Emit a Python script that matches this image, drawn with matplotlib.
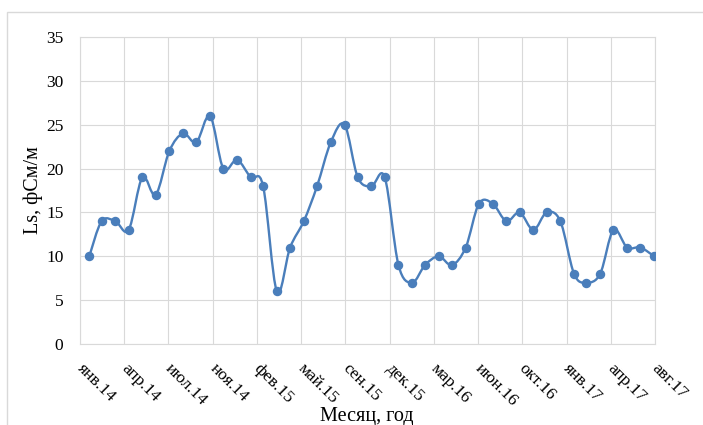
import numpy as np
import pandas as pd
import matplotlib
matplotlib.use("Agg")
import matplotlib.pyplot as plt
import matplotlib.dates as mdates
import matplotlib.transforms as mtransforms
from matplotlib.path import Path
from matplotlib.patches import PathPatch, Rectangle

# ---- data ----
months = pd.period_range("2014-01", "2017-07", freq="M")
values = [10, 14, 14, 13, 19, 17, 22, 24, 23, 26,
          20, 21, 19, 18, 6, 11, 14, 18, 23, 25,
          19, 18, 19, 9, 7, 9, 10, 9, 11, 16,
          16, 14, 15, 13, 15, 14, 8, 7, 8, 13,
          11, 11, 10]
tick_labels = ["янв.14", "апр.14", "июл.14", "ноя.14", "фев.15", "май.15",
               "сен.15", "дек.15", "мар.16", "июн.16", "окт.16", "янв.17",
               "апр.17", "авг.17"]
y_ticks = [0, 5, 10, 15, 20, 25, 30, 35]
x_title = "Месяц, год"
y_title = "Ls, фСм/м"

plt.rcParams["font.family"] = ["Liberation Serif", "DejaVu Serif"]

W, H = 703, 425
fig = plt.figure(figsize=(W / 100, H / 100), dpi=100)
fig.patch.set_facecolor("white")

# chart area border
fig.add_artist(Rectangle((7 / W, -0.1), 1.2, 1.1 - 12 / H, transform=fig.transFigure,
                         fill=False, edgecolor="#d9d9d9", linewidth=1.0))

ax = fig.add_axes([80 / W, 1 - 344 / H, (655 - 80) / W, (344 - 37) / H])

x = mdates.date2num(months.to_timestamp(how="end").normalize())
y = np.array(values, dtype=float)

xmin = mdates.date2num(pd.Timestamp("2014-01-10"))
xmax = xmin + 1300

# smoothed line (Catmull-Rom style bezier like Excel)
pts = np.column_stack([x, y])
verts = [pts[0]]
codes = [Path.MOVETO]
n = len(pts)
for i in range(n - 1):
    p0 = pts[i - 1] if i > 0 else pts[i]
    p1 = pts[i]
    p2 = pts[i + 1]
    p3 = pts[i + 2] if i + 2 < n else pts[i + 1]
    c1 = p1 + (p2 - p0) / 6.0
    c2 = p2 - (p3 - p1) / 6.0
    verts += [c1, c2, p2]
    codes += [Path.CURVE4] * 3
color = "#4a7ebb"
ax.add_patch(PathPatch(Path(verts, codes), facecolor="none", edgecolor=color,
                       linewidth=1.7, capstyle="round", joinstyle="round", zorder=3))
ax.plot(x, y, linestyle="none", marker="o", markersize=5.8, color=color, zorder=4)

ax.set_xlim(xmin, xmax)
ax.set_ylim(0, 35)
ax.set_yticks(y_ticks)
ax.set_yticklabels([str(v) for v in y_ticks])
xt = xmin + 100 * np.arange(len(tick_labels))
ax.set_xticks(xt)
ax.set_xticklabels([])
offset = mtransforms.ScaledTranslation(5 / 100, -17 / 100, fig.dpi_scale_trans)
for pos, lab in zip(xt, tick_labels):
    ax.text(pos, 0, lab, transform=ax.get_xaxis_transform() + offset,
            rotation=-45, ha="left", va="top", rotation_mode="anchor",
            fontsize=12.5, clip_on=False)

ax.grid(True, color="#d9d9d9", linewidth=0.8)
ax.set_axisbelow(True)
for s in ax.spines.values():
    s.set_color("#d9d9d9")
    s.set_linewidth(0.8)
ax.tick_params(axis="both", length=0, labelsize=12.5, colors="black")
ax.tick_params(axis="y", pad=12)

fig.text(33 / W, 1 - 190 / H, y_title, rotation=90, ha="center", va="center", fontsize=14.5)
fig.text(367 / W, 1 - 417 / H, x_title, ha="center", va="center", fontsize=14.5)

fig.savefig("out.png", dpi=100, facecolor="white")
